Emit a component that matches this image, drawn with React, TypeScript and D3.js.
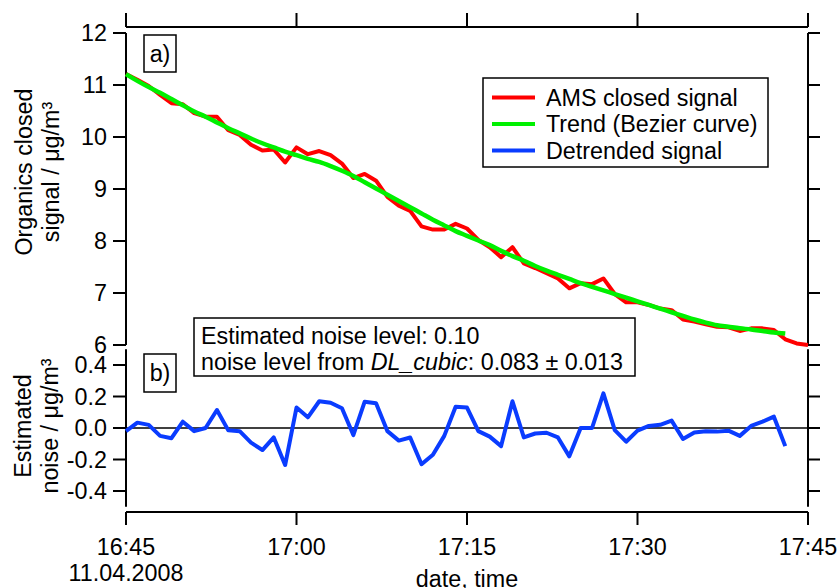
import React from "react";
import * as d3 from "d3";

// ---- data (1-minute resolution starting 11.04.2008 16:45) ----
const startTime = new Date(2008, 3, 11, 16, 45);
const endTime = new Date(2008, 3, 11, 17, 45);

const amsSignal = [
  11.21, 11.1, 10.98, 10.81, 10.65, 10.63, 10.46, 10.39, 10.39, 10.13,
  10.04, 9.85, 9.74, 9.76, 9.51, 9.8, 9.67, 9.73, 9.65, 9.49,
  9.21, 9.29, 9.16, 8.85, 8.68, 8.58, 8.28, 8.22, 8.22, 8.33,
  8.24, 8.02, 7.88, 7.69, 7.88, 7.57, 7.48, 7.38, 7.28, 7.09,
  7.19, 7.17, 7.28, 6.98, 6.82, 6.82, 6.77, 6.7, 6.67, 6.49,
  6.45, 6.4, 6.35, 6.34, 6.27, 6.32, 6.32, 6.29, 6.11, 6.03,
  6.0,
];

const trendBezier = [
  11.21, 11.08, 10.96, 10.85, 10.73, 10.61, 10.49, 10.39, 10.28, 10.17,
  10.07, 9.97, 9.88, 9.8, 9.72, 9.65, 9.58, 9.52, 9.44, 9.35,
  9.25, 9.13, 9.01, 8.89, 8.77, 8.65, 8.53, 8.41, 8.3, 8.19,
  8.1, 8.01, 7.92, 7.81, 7.71, 7.62, 7.52, 7.43, 7.35, 7.27,
  7.19, 7.12, 7.05, 6.98, 6.91, 6.84, 6.77, 6.7, 6.63, 6.56,
  6.49, 6.43, 6.38, 6.35, 6.32, 6.3, 6.27, 6.24, 6.22,
];

const detrended = [
  -0.02, 0.034, 0.02, -0.05, -0.065, 0.04, -0.02, 0.0, 0.114, -0.015,
  -0.02, -0.093, -0.14, -0.06, -0.235, 0.13, 0.068, 0.17, 0.16, 0.125,
  -0.045, 0.167, 0.157, -0.02, -0.08, -0.06, -0.23, -0.17, -0.05, 0.135,
  0.13, -0.02, -0.055, -0.115, 0.17, -0.06, -0.035, -0.03, -0.06, -0.18,
  0.0, 0.0, 0.22, -0.013, -0.087, -0.017, 0.013, 0.02, 0.047, -0.07,
  -0.028, -0.02, -0.023, -0.017, -0.05, 0.013, 0.04, 0.072, -0.115,
];

const topTicks = [6, 7, 8, 9, 10, 11, 12];
const bottomTicks = [-0.4, -0.2, 0.0, 0.2, 0.4];
const timeTickLabels = ["16:45", "17:00", "17:15", "17:30", "17:45"];
const legendLabels = ["AMS closed signal", "Trend (Bezier curve)", "Detrended signal"];
const colors = ["#ff0000", "#00f000", "#0a3cff"];

const FONT = "'Liberation Sans', Arial, Helvetica, sans-serif";

export default function App() {
  const W = 840;
  const H = 588;
  const x = d3.scaleTime().domain([startTime, endTime]).range([126, 808]);
  const yTop = d3.scaleLinear().domain([6, 12]).range([345, 33]);
  const yBot = d3.scaleLinear().domain([-0.5, 0.5]).range([506.75, 349.25]);
  const t = (i: number) => d3.timeMinute.offset(startTime, i);

  const redLine = d3
    .line<number>()
    .x((_, i) => x(t(i)))
    .y((d) => yTop(d));
  const greenLine = d3
    .line<number>()
    .x((_, i) => x(t(i)))
    .y((d) => yTop(d))
    .curve(d3.curveMonotoneX);
  const blueLine = d3
    .line<number>()
    .x((_, i) => x(t(i)))
    .y((d) => yBot(d));

  const timeTicks = x.ticks(d3.timeMinute.every(15));
  const fs = 23.3;
  const axisW = 2;

  return (
    <svg
      width={W}
      height={H}
      style={{ position: "absolute", left: 0, top: 0, background: "#fff" }}
      fontFamily={FONT}
    >
      <rect width={W} height={H} fill="#fff" />
      {/* Top mirror axis */}
      <line x1={126} x2={808} y1={27} y2={27} stroke="#000" strokeWidth={axisW} />
      {timeTicks.map((d, i) => (
        <line key={"tt" + i} x1={x(d)} x2={x(d)} y1={27} y2={13} stroke="#000" strokeWidth={axisW} />
      ))}

      {/* Top panel axes */}
      <line x1={126} x2={126} y1={yTop(12)} y2={yTop(6)} stroke="#000" strokeWidth={axisW} />
      <line x1={808} x2={808} y1={yTop(12)} y2={yTop(6)} stroke="#000" strokeWidth={axisW} />
      {topTicks.map((v) => (
        <g key={"yt" + v}>
          <line x1={113} x2={126} y1={yTop(v)} y2={yTop(v)} stroke="#000" strokeWidth={axisW} />
          <line x1={808} x2={820} y1={yTop(v)} y2={yTop(v)} stroke="#000" strokeWidth={axisW} />
          <text x={107} y={yTop(v) + 8.3} fontSize={fs} textAnchor="end">
            {v}
          </text>
        </g>
      ))}

      {/* Bottom panel axes */}
      <line x1={126} x2={126} y1={yBot(0.5)} y2={yBot(-0.5)} stroke="#000" strokeWidth={axisW} />
      <line x1={808} x2={808} y1={yBot(0.5)} y2={yBot(-0.5)} stroke="#000" strokeWidth={axisW} />
      {bottomTicks.map((v) => (
        <g key={"yb" + v}>
          <line x1={113} x2={126} y1={yBot(v)} y2={yBot(v)} stroke="#000" strokeWidth={axisW} />
          <line x1={808} x2={820} y1={yBot(v)} y2={yBot(v)} stroke="#000" strokeWidth={axisW} />
          <text x={107} y={yBot(v) + 8.3} fontSize={fs} textAnchor="end">
            {v.toFixed(1)}
          </text>
        </g>
      ))}
      <line x1={126} x2={808} y1={yBot(0)} y2={yBot(0)} stroke="#000" strokeWidth={1.5} />

      {/* X axis */}
      <line x1={126} x2={808} y1={512} y2={512} stroke="#000" strokeWidth={axisW} />
      {timeTicks.map((d, i) => (
        <g key={"xt" + i}>
          <line x1={x(d)} x2={x(d)} y1={512} y2={525} stroke="#000" strokeWidth={axisW} />
          <text x={x(d)} y={555} fontSize={fs} textAnchor="middle">
            {timeTickLabels[i]}
          </text>
        </g>
      ))}
      <text x={x(startTime)} y={581} fontSize={fs} textAnchor="middle">
        11.04.2008
      </text>
      <text x={(x(startTime) + x(endTime)) / 2} y={587} fontSize={fs} textAnchor="middle">
        date, time
      </text>

      {/* Axis titles */}
      <g transform="translate(32,172) rotate(-90)">
        <text fontSize={fs} textAnchor="middle">Organics closed</text>
      </g>
      <g transform="translate(59,172) rotate(-90)">
        <text fontSize={fs} textAnchor="middle">signal / μg/m³</text>
      </g>
      <g transform="translate(31,426) rotate(-90)">
        <text fontSize={fs} textAnchor="middle">Estimated</text>
      </g>
      <g transform="translate(58,426) rotate(-90)">
        <text fontSize={fs} textAnchor="middle">noise / μg/m³</text>
      </g>

      {/* Data lines */}
      <path d={redLine(amsSignal) || ""} fill="none" stroke={colors[0]} strokeWidth={4} strokeLinejoin="round" />
      <path d={greenLine(trendBezier) || ""} fill="none" stroke={colors[1]} strokeWidth={4.5} strokeLinejoin="round" />
      <path d={blueLine(detrended) || ""} fill="none" stroke={colors[2]} strokeWidth={4} strokeLinejoin="round" />

      {/* Panel labels */}
      <rect x={144} y={35} width={32} height={37} fill="#fff" stroke="#000" strokeWidth={1.5} />
      <text x={160} y={62} fontSize={fs} textAnchor="middle">a)</text>
      <rect x={144} y={354} width={32} height={38} fill="#fff" stroke="#000" strokeWidth={1.5} />
      <text x={160} y={381} fontSize={fs} textAnchor="middle">b)</text>

      {/* Legend */}
      <rect x={483} y={78} width={285} height={89} fill="#fff" stroke="#000" strokeWidth={1.5} />
      {legendLabels.map((lab, i) => (
        <g key={"lg" + i}>
          <line x1={492} x2={535} y1={97.5 + i * 26.5} y2={97.5 + i * 26.5} stroke={colors[i]} strokeWidth={4} />
          <text x={546} y={105.5 + i * 26.5} fontSize={fs}>
            {lab}
          </text>
        </g>
      ))}

      {/* Noise annotation */}
      <rect x={194} y={318} width={441} height={58} fill="#fff" stroke="#000" strokeWidth={1.5} />
      <text x={201} y={344} fontSize={fs}>
        Estimated noise level: 0.10
      </text>
      <text x={201} y={370} fontSize={fs}>
        noise level from <tspan fontStyle="italic">DL_cubic</tspan>: 0.083 ± 0.013
      </text>
    </svg>
  );
}
